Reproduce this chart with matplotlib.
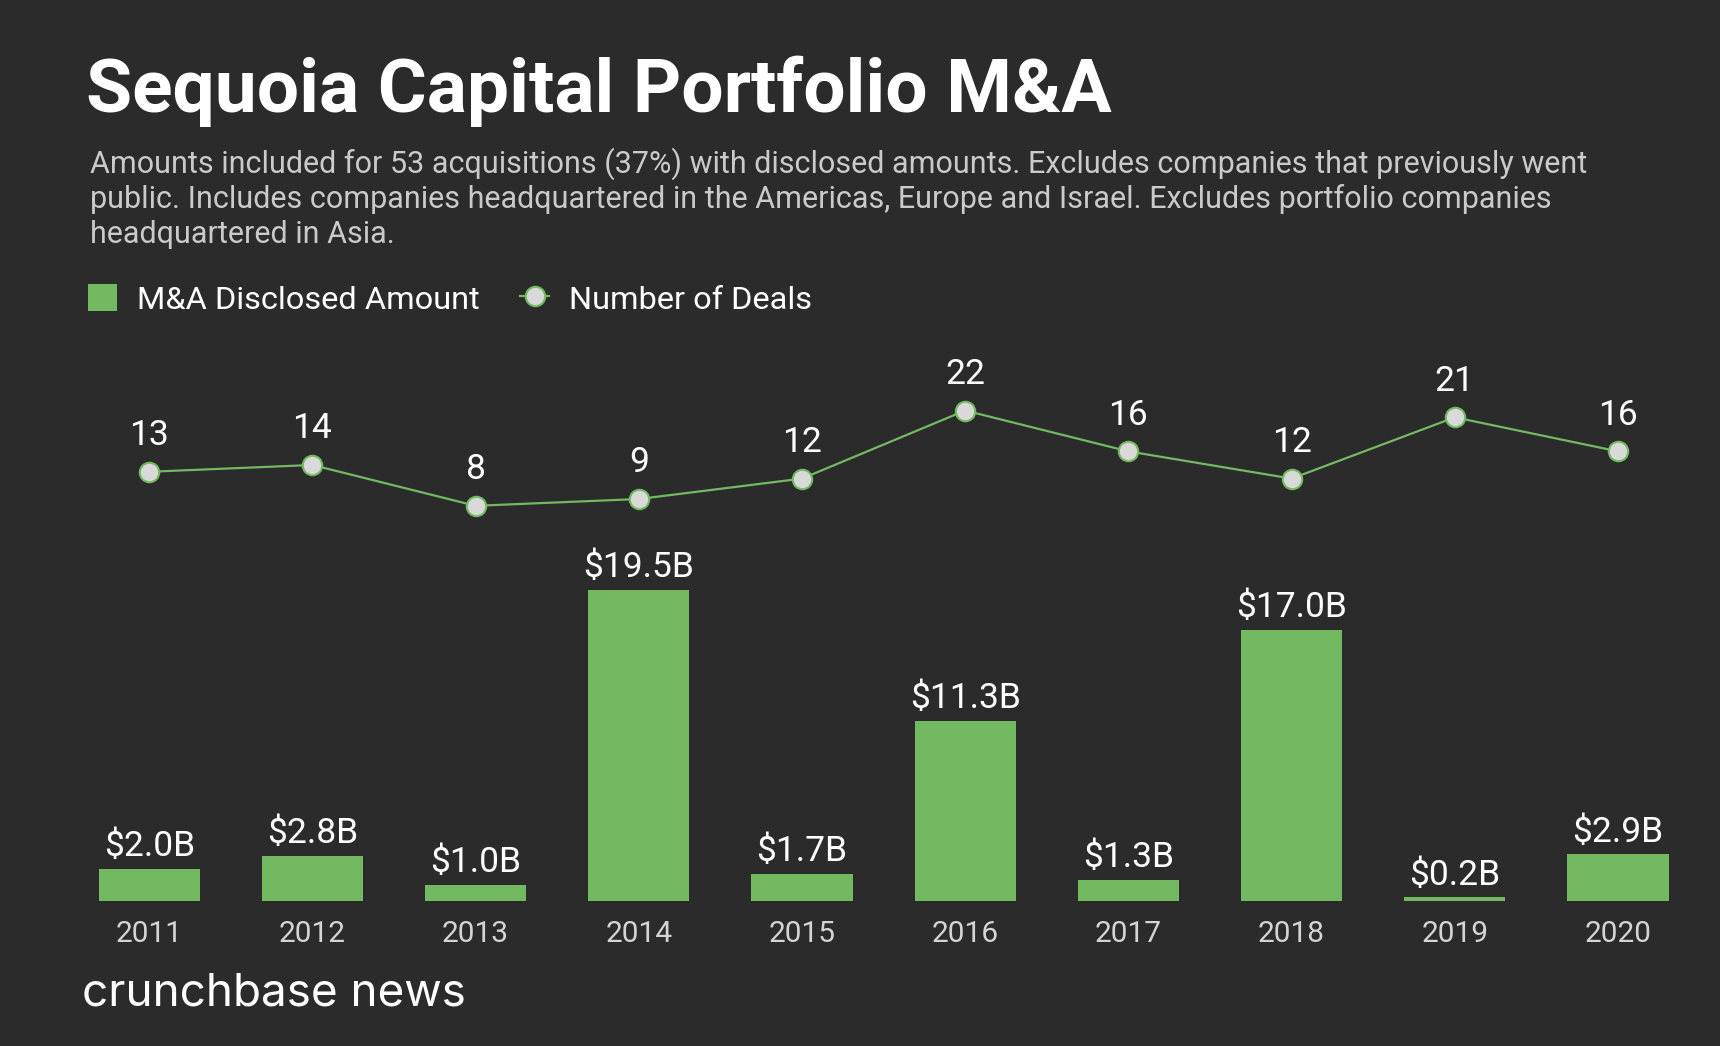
import matplotlib
matplotlib.use('Agg')
import matplotlib.pyplot as plt
import numpy as np

# data
years = ['2011', '2012', '2013', '2014', '2015', '2016', '2017', '2018', '2019', '2020']
amounts = [2.0, 2.8, 1.0, 19.5, 1.7, 11.3, 1.3, 17.0, 0.2, 2.9]
deals = [13, 14, 8, 9, 12, 22, 16, 12, 21, 16]

title = 'Sequoia Capital Portfolio M&A'
subtitle = [
    'Amounts included for 53 acquisitions (37%) with disclosed amounts. Excludes companies that previously went',
    'public. Includes companies headquartered in the Americas, Europe and Israel. Excludes portfolio companies',
    'headquartered in Asia.',
]

bg = '#2b2b2b'
green = '#73b962'
W, H = 1720, 1046

plt.rcParams['font.family'] = ['Roboto', 'DejaVu Sans']

fig = plt.figure(figsize=(W / 100, H / 100), dpi=100, facecolor=bg)

# bars
ax = fig.add_axes([67.6 / W, 1 - 900.6 / H, 1632 / W, 580.6 / H])
ax.set_facecolor('none')
x = np.arange(len(years))
bars = ax.bar(x, amounts, width=0.62, color=green, label='M&A Disclosed Amount')
ax.set_xlim(-0.5, 9.5)
ax.set_ylim(0, 36.45)
for s in ax.spines.values():
    s.set_visible(False)
ax.set_yticks([])
ax.set_xticks(x, years)
ax.tick_params(axis='x', length=0, pad=14, labelsize=21.5, labelcolor='#d4d4d4')
ax.bar_label(bars, labels=[f'${v:.1f}B' for v in amounts], padding=4,
             color='white', fontsize=25.5)

# deals line
ax2 = ax.twinx()
ax2.set_ylim(-50, 35.3)
ax2.set_yticks([])
for s in ax2.spines.values():
    s.set_visible(False)
line, = ax2.plot(x, deals, color=green, lw=1.6, marker='o', ms=14,
                 mfc='#d9d9d9', mec=green, mew=1.5, label='Number of Deals')
for xi, d in zip(x, deals):
    ax2.annotate(str(d), (xi, d), xytext=(0, 26), textcoords='offset points',
                 ha='center', va='center', color='white', fontsize=25.5)

# legend
fig.legend([bars, line], ['M&A Disclosed Amount', 'Number of Deals'],
           loc='upper left', bbox_to_anchor=(88 / W, 1 - 284 / H), ncol=2,
           frameon=False, fontsize=23.4, handlelength=0.9, handleheight=0.9,
           handletextpad=0.6, columnspacing=1.25, labelcolor='white',
           borderaxespad=0, borderpad=0)

# title + subtitle
fig.text(86 / W, 1 - 112 / H, title, fontsize=54, fontweight='bold',
         color='white', va='baseline')
for i, t in enumerate(subtitle):
    fig.text(90 / W, 1 - (173 + 35 * i) / H, t, fontsize=22, color='#cacaca',
             va='baseline')

# logo text
fig.text(82 / W, 1 - 993 / H, 'crunchbase news', fontsize=33, family='Inter',
         color='white', va='center')

fig.savefig('out.png', dpi=100, facecolor=bg)
